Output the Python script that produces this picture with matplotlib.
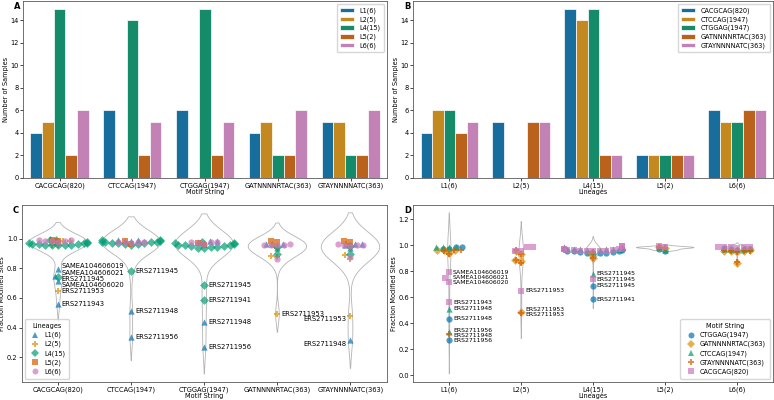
import numpy as np
import pandas as pd
import matplotlib
matplotlib.use("Agg")
import matplotlib.pyplot as plt
import seaborn as sns
from matplotlib.lines import Line2D

motifs = ["CACGCAG(820)", "CTCCAG(1947)", "CTGGAG(1947)", "GATNNNNRTAC(363)", "GTAYNNNNATC(363)"]
lineages = ["L1(6)", "L2(5)", "L4(15)", "L5(2)", "L6(6)"]

# fraction of modified sites per sample, by motif then lineage
frac_CACGCAG = {
    "L1(6)": [0.795, 0.75, 0.715, 0.56],
    "L2(5)": [0.985, 0.985, 0.96, 0.96, 0.65],
    "L4(15)": [0.995, 0.995, 0.97, 0.965, 0.96, 0.97, 0.955, 0.96, 0.965, 0.975, 0.96, 0.97, 0.965, 0.955, 0.74],
    "L5(2)": [0.995, 0.985],
    "L6(6)": [0.985, 0.985, 0.99, 0.985, 0.98, 0.99],
}
frac_CTCCAG = {
    "L1(6)": [0.985, 0.99, 0.985, 0.99, 0.51, 0.335],
    "L2(5)": [],
    "L4(15)": [0.99, 0.985, 0.975, 0.97, 0.965, 0.96, 0.97, 0.975, 0.98, 0.965, 0.97, 0.99, 0.975, 0.78],
    "L5(2)": [0.985, 0.965],
    "L6(6)": [0.975, 0.98, 0.975, 0.97, 0.975],
}
frac_CTGGAG = {
    "L1(6)": [0.97, 0.975, 0.985, 0.985, 0.435, 0.27],
    "L2(5)": [],
    "L4(15)": [0.975, 0.97, 0.96, 0.955, 0.95, 0.945, 0.94, 0.935, 0.945, 0.95, 0.96, 0.965, 0.97, 0.69, 0.585],
    "L5(2)": [0.96, 0.97],
    "L6(6)": [0.975, 0.98, 0.97, 0.965, 0.975],
}
frac_GATN = {
    "L1(6)": [0.965, 0.965, 0.965, 0.94],
    "L2(5)": [0.96, 0.935, 0.885, 0.88, 0.49],
    "L4(15)": [0.945, 0.90],
    "L5(2)": [0.985, 0.98],
    "L6(6)": [0.955, 0.96, 0.955, 0.96, 0.965, 0.865],
}
frac_GTAY = {
    "L1(6)": [0.965, 0.965, 0.96, 0.935, 0.315],
    "L2(5)": [0.965, 0.935, 0.89, 0.865, 0.48],
    "L4(15)": [0.95, 0.90],
    "L5(2)": [0.985, 0.98],
    "L6(6)": [0.96, 0.955, 0.96, 0.965, 0.95, 0.875],
}
frac_by_motif = [frac_CACGCAG, frac_CTCCAG, frac_CTGGAG, frac_GATN, frac_GTAY]

# names of the low samples (fraction < 0.82), in the order listed above
outlier_names = {
    ("CACGCAG(820)", "L1(6)"): ["SAMEA104606019", "SAMEA104606021", "SAMEA104606020", "ERS2711943"],
    ("CACGCAG(820)", "L2(5)"): ["ERS2711953"],
    ("CACGCAG(820)", "L4(15)"): ["ERS2711945"],
    ("CTCCAG(1947)", "L1(6)"): ["ERS2711948", "ERS2711956"],
    ("CTCCAG(1947)", "L4(15)"): ["ERS2711945"],
    ("CTGGAG(1947)", "L1(6)"): ["ERS2711948", "ERS2711956"],
    ("CTGGAG(1947)", "L4(15)"): ["ERS2711945", "ERS2711941"],
    ("GATNNNNRTAC(363)", "L2(5)"): ["ERS2711953"],
    ("GTAYNNNNATC(363)", "L1(6)"): ["ERS2711948"],
    ("GTAYNNNNATC(363)", "L2(5)"): ["ERS2711953"],
}

# build long table
rows = []
for m, d in zip(motifs, frac_by_motif):
    for lin in lineages:
        names = list(outlier_names.get((m, lin), []))
        for v in d[lin]:
            nm = names.pop(0) if (v < 0.82 and names) else ""
            rows.append((m, lin, v, nm))
df = pd.DataFrame(rows, columns=["motif", "lineage", "frac", "name"])

counts = (df.groupby(["motif", "lineage"]).size()
          .reindex(pd.MultiIndex.from_product([motifs, lineages], names=["motif", "lineage"]), fill_value=0)
          .rename("n").reset_index())

pal = sns.color_palette("colorblind", 5)
lin_markers = ["^", "P", "D", "s", "o"]
motif_order_D = ["CTGGAG(1947)", "GATNNNNRTAC(363)", "CTCCAG(1947)", "GTAYNNNNATC(363)", "CACGCAG(820)"]
motif_markers_D = ["o", "D", "^", "P", "s"]

FS = 4.7
plt.rcParams["font.size"] = FS
plt.rcParams["axes.linewidth"] = 0.6
plt.rcParams["axes.edgecolor"] = "0.35"

fig = plt.figure(figsize=(7.74, 4.0), dpi=100)
axA = fig.add_axes([0.030, 0.555, 0.470, 0.443])
axB = fig.add_axes([0.534, 0.555, 0.465, 0.443])
axC = fig.add_axes([0.028, 0.045, 0.472, 0.443])
axD = fig.add_axes([0.534, 0.045, 0.465, 0.443])


def style(ax, xlabel, ylabel):
    ax.set_xlabel(xlabel, fontsize=FS, labelpad=0.5)
    ax.set_ylabel(ylabel, fontsize=FS, labelpad=1)
    ax.tick_params(labelsize=4.8, length=2, width=0.5, pad=1)


# A: samples per motif, by lineage
sns.barplot(data=counts, x="motif", y="n", hue="lineage", order=motifs, hue_order=lineages,
            palette=pal, errorbar=None, linewidth=0.5, edgecolor="white", ax=axA)
style(axA, "Motif String", "Number of Samples")
sns.move_legend(axA, "upper right", title=None, fontsize=FS, labelspacing=0.35, borderpad=0.5,
                handlelength=2.2)

# B: samples per lineage, by motif
sns.barplot(data=counts, x="lineage", y="n", hue="motif", order=lineages, hue_order=motifs,
            palette=pal, errorbar=None, linewidth=0.5, edgecolor="white", ax=axB)
style(axB, "Lineages", "Number of Samples")
sns.move_legend(axB, "upper right", title=None, fontsize=FS, labelspacing=0.35, borderpad=0.5,
                handlelength=2.2)


def label_points(ax, xcol, order, gap, fs, left=()):
    for i, cat in enumerate(order):
        sub = df[(df[xcol] == cat) & (df["name"] != "")].sort_values("frac", ascending=False)
        if sub.empty:
            continue
        pos = sub["frac"].to_numpy(dtype=float).copy()
        for _ in range(200):
            for k in range(len(pos) - 1):
                d = pos[k] - pos[k + 1]
                if d < gap:
                    pos[k] += (gap - d) / 2
                    pos[k + 1] -= (gap - d) / 2
        for nm, y in zip(sub["name"], pos):
            if cat in left:
                ax.text(i - 0.05, y - 0.025, nm, ha="right", va="center", fontsize=fs)
            else:
                ax.text(i + 0.05, y, nm, ha="left", va="center", fontsize=fs)


# C: fraction by motif, points by lineage
sns.violinplot(data=df, x="motif", y="frac", order=motifs, inner=None, fill=False,
               density_norm="width", color="0.7", linewidth=0.6, ax=axC)
for lin, c, mk in zip(lineages, pal, lin_markers):
    sns.swarmplot(data=df[df["lineage"] == lin], x="motif", y="frac", order=motifs,
                  color=c, marker=mk, size=4.5, alpha=0.7, linewidth=0, ax=axC)
label_points(axC, "motif", motifs, 0.042, 4.9, left=("GTAYNNNNATC(363)",))
style(axC, "Motif String", "Fraction Modified Sites")
axC.set_yticks([0.2, 0.4, 0.6, 0.8, 1.0])
hC = [Line2D([], [], ls="", marker=mk, color=c, alpha=0.7, markersize=4.3, markeredgewidth=0)
      for c, mk in zip(pal, lin_markers)]
axC.legend(hC, lineages, title="Lineages", loc="lower left", fontsize=FS, title_fontsize=FS,
           labelspacing=0.4, borderpad=0.6, handletextpad=0.4)

# D: fraction by lineage, points by motif
sns.violinplot(data=df, x="lineage", y="frac", order=lineages, inner=None, fill=False,
               color="0.7", linewidth=0.6, ax=axD)
for m, c, mk in zip(motif_order_D, pal, motif_markers_D):
    sns.swarmplot(data=df[df["motif"] == m], x="lineage", y="frac", order=lineages,
                  color=c, marker=mk, size=4.5, alpha=0.7, linewidth=0, ax=axD)
label_points(axD, "lineage", lineages, 0.036, 4.4)
style(axD, "Lineages", "Fraction Modified Sites")
hD = [Line2D([], [], ls="", marker=mk, color=c, alpha=0.7, markersize=4.3, markeredgewidth=0)
      for c, mk in zip(pal, motif_markers_D)]
axD.legend(hD, motif_order_D, title="Motif String", loc="lower right", fontsize=FS, title_fontsize=FS,
           labelspacing=0.4, borderpad=0.6, handletextpad=0.4)

for ax, letter in zip([axA, axB, axC, axD], "ABCD"):
    ax.text(-0.025, 0.995, letter, transform=ax.transAxes, ha="left", va="top",
            fontsize=6, fontweight="bold")

fig.savefig("out.png", dpi=100)
